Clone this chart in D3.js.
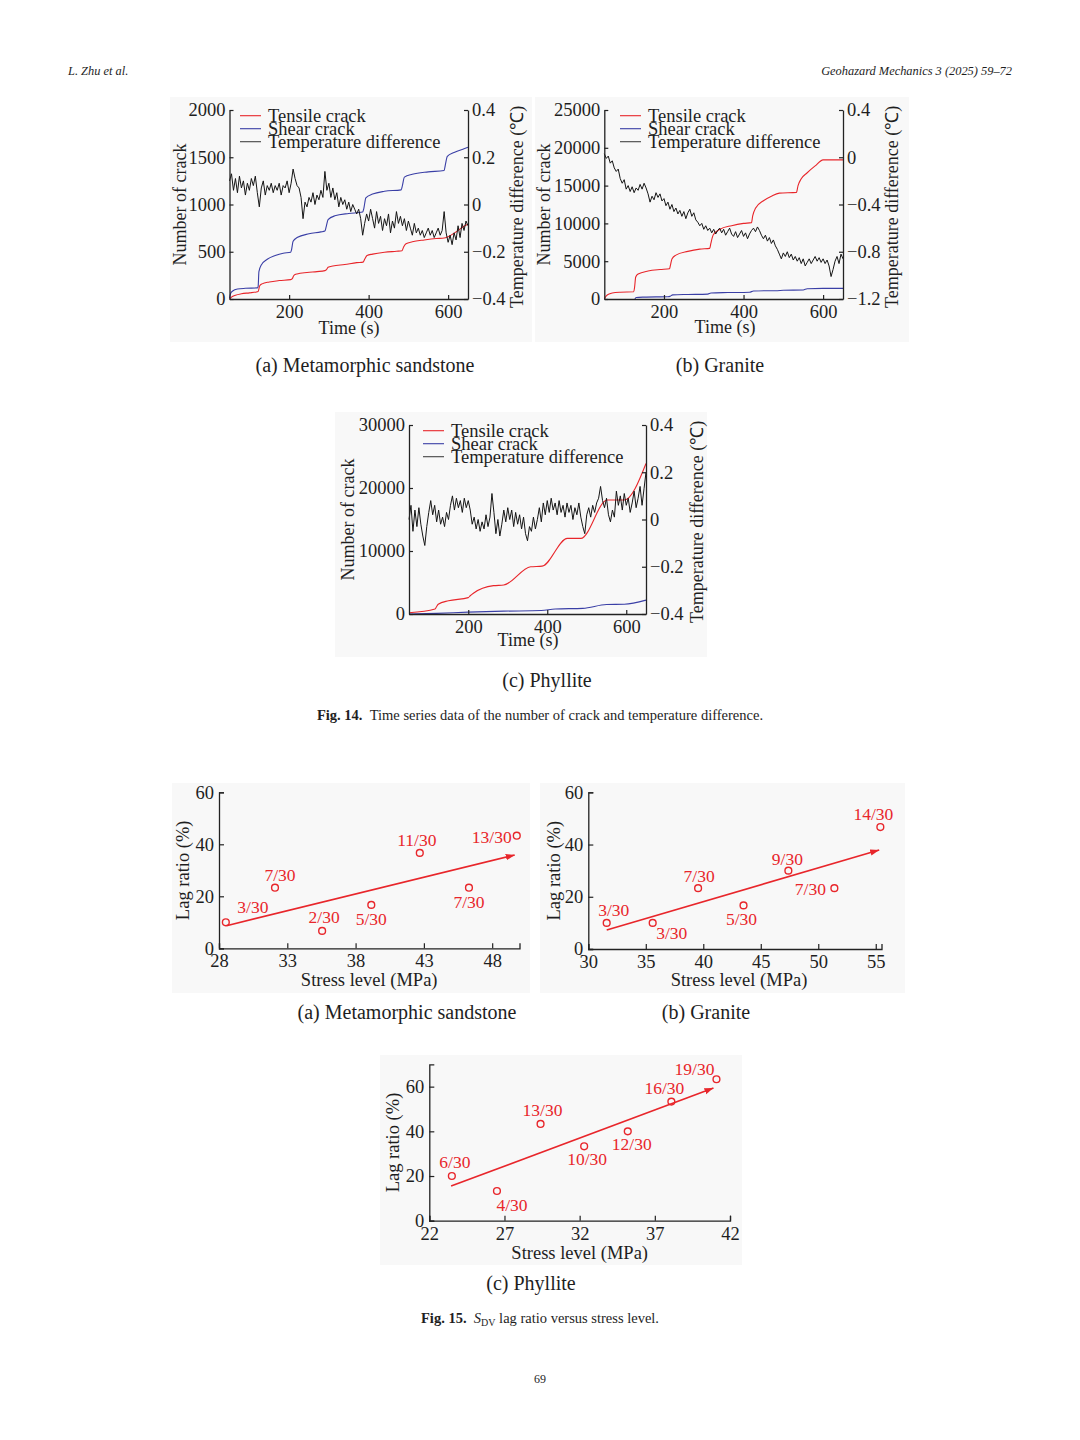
<!DOCTYPE html>
<html><head><meta charset="utf-8">
<script src="https://cdn.jsdelivr.net/npm/d3@7"></script>
<style>
body{margin:0;background:#fff}
svg{display:block}
text{font-family:"Liberation Serif","Times New Roman",serif;fill:#1e1e1e}
</style>
</head><body>
<svg id="page" width="1080" height="1440"></svg>
<script>
// ---------------- DATA ----------------
const timeTicks = [200, 400, 600];
const tempTime = d3.range(50, 651, 5);

// (a) Metamorphic sandstone — [time s, count]
const tensileA = [[50,0],[55,20],[65,40],[80,55],[100,65],[118,75],[122,80],[126,140],[132,160],[150,180],[175,195],[204,205],[208,215],[212,250],[220,265],[245,280],[270,290],[290,300],[294,310],[298,335],[310,350],[340,365],[370,385],[386,390],[390,420],[396,460],[410,475],[440,495],[470,505],[484,510],[488,550],[494,585],[510,605],[540,625],[570,640],[590,645],[600,660],[620,710],[640,770],[650,790]];
const shearA = [[50,10],[53,60],[58,85],[70,105],[90,113],[120,118],[122,130],[124,290],[130,360],[145,420],[165,460],[185,485],[204,495],[206,520],[210,610],[220,650],[250,690],[280,710],[290,720],[293,760],[298,840],[315,880],[350,905],[385,920],[388,960],[393,1070],[410,1110],[440,1140],[482,1155],[485,1200],[490,1290],[510,1320],[550,1345],[590,1360],[593,1420],[598,1510],[615,1550],[640,1590],[650,1605]];
const tempA = [
 0.10, 0.13, 0.06, 0.11, 0.05, 0.12, 0.07, 0.10, 0.04, 0.09,
 0.06, 0.11, 0.08, 0.12, 0.05,-0.01, 0.07, 0.10, 0.04, 0.08,
 0.06, 0.09, 0.05, 0.08, 0.06, 0.09, 0.04, 0.08, 0.07, 0.10,
 0.05, 0.09, 0.15, 0.11, 0.08, 0.07, 0.03,-0.06, 0.01,-0.01,
 0.03, 0.01, 0.05, 0.00, 0.04, 0.02, 0.06, 0.03, 0.14, 0.06,
 0.09, 0.03, 0.07, 0.02, 0.05,-0.01, 0.03, 0.00, 0.02,-0.02,
 0.01,-0.03, 0.00,-0.02,-0.04,-0.02,-0.06,-0.13,-0.08,-0.04,
-0.07,-0.02,-0.06,-0.10,-0.03,-0.08,-0.05,-0.11,-0.06,-0.09,
-0.04,-0.12,-0.07,-0.10,-0.03,-0.08,-0.05,-0.09,-0.06,-0.11,
-0.07,-0.10,-0.13,-0.08,-0.12,-0.10,-0.13,-0.11,-0.14,-0.12,
-0.10,-0.13,-0.11,-0.14,-0.12,-0.10,-0.13,-0.11,-0.03,-0.12,
-0.16,-0.13,-0.17,-0.12,-0.15,-0.09,-0.14,-0.08,-0.11,-0.07,
-0.09];

// (b) Granite
const tensileB = [[50,0],[55,400],[62,650],[70,800],[90,900],[124,950],[126,1500],[129,2900],[135,3300],[160,3700],[190,3900],[214,4000],[216,4400],[220,5300],[230,5800],[260,6300],[290,6600],[315,6700],[318,7400],[324,8500],[340,9200],[370,9700],[400,10000],[420,10100],[423,11000],[430,12000],[450,13000],[470,13600],[490,14000],[533,14100],[537,15000],[545,15900],[560,16700],[580,17600],[600,18400],[650,18400]];
const shearB = [[127,0],[130,200],[150,250],[210,300],[215,350],[222,550],[260,600],[310,650],[318,800],[360,850],[415,900],[425,1050],[470,1100],[480,1100],[500,1150],[550,1200],[560,1350],[600,1400],[650,1400]];
const tempB = [
 0.03,-0.01, 0.01,-0.05,-0.03,-0.09,-0.12,-0.10,-0.18,-0.22,
-0.19,-0.27,-0.24,-0.29,-0.25,-0.30,-0.26,-0.28,-0.23,-0.27,
-0.22,-0.26,-0.31,-0.38,-0.33,-0.36,-0.30,-0.34,-0.31,-0.37,
-0.35,-0.41,-0.38,-0.44,-0.40,-0.46,-0.43,-0.48,-0.45,-0.50,
-0.46,-0.52,-0.47,-0.44,-0.50,-0.47,-0.53,-0.55,-0.58,-0.56,
-0.61,-0.58,-0.62,-0.60,-0.64,-0.61,-0.65,-0.62,-0.60,-0.64,
-0.61,-0.66,-0.63,-0.60,-0.65,-0.67,-0.63,-0.68,-0.65,-0.62,
-0.67,-0.64,-0.69,-0.65,-0.62,-0.60,-0.63,-0.59,-0.62,-0.66,
-0.69,-0.66,-0.71,-0.68,-0.73,-0.70,-0.75,-0.78,-0.82,-0.86,
-0.81,-0.84,-0.80,-0.85,-0.82,-0.87,-0.84,-0.88,-0.85,-0.90,
-0.86,-0.92,-0.89,-0.86,-0.90,-0.87,-0.84,-0.88,-0.85,-0.89,
-0.86,-0.90,-0.87,-0.92,-1.01,-0.95,-0.88,-0.84,-0.90,-0.82,
-0.86];

// (c) Phyllite
const tensileC = [[50,200],[116,800],[120,1200],[124,1550],[150,2100],[200,2600],[205,2900],[213,3300],[264,4500],[290,4600],[358,7500],[387,7600],[451,12000],[485,12000],[552,18100],[595,18100],[650,23900]];
const shearC = [[50,0],[120,100],[200,300],[290,450],[385,550],[420,800],[490,900],[550,1500],[595,1550],[650,2200]];
const tempC = [
 0.00, 0.06,-0.05, 0.04,-0.03, 0.05,-0.02,-0.07,-0.11,-0.03,
 0.03, 0.08, 0.02, 0.06,-0.01, 0.04,-0.02, 0.01,-0.03, 0.03,
 0.00, 0.06, 0.10, 0.04, 0.09, 0.05, 0.08, 0.03, 0.09, 0.05,
 0.08, 0.04,-0.02, 0.01,-0.04, 0.00,-0.05,-0.01,-0.04, 0.02,
-0.03, 0.01, 0.11, 0.03,-0.06, 0.00,-0.07,-0.02, 0.04,-0.01,
 0.05, 0.00, 0.04,-0.03, 0.03,-0.02, 0.02,-0.04, 0.01,-0.06,
-0.09,-0.03,-0.05, 0.01,-0.04, 0.00, 0.05,-0.01, 0.07, 0.02,
 0.08, 0.03, 0.09, 0.04, 0.07, 0.02, 0.08, 0.03, 0.06, 0.01,
 0.07, 0.03, 0.06, 0.00, 0.05, 0.02, 0.07, 0.01,-0.03,-0.06,
 0.02, 0.05, 0.01, 0.06, 0.03, 0.07, 0.09, 0.14, 0.08, 0.05,
 0.09, 0.02,-0.01, 0.04, 0.01, 0.12, 0.06, 0.10, 0.04, 0.11,
 0.06, 0.09, 0.03, 0.07, 0.12, 0.05, 0.09, 0.14, 0.06, 0.13,
 0.20];

const legendNames = ["Tensile crack", "Shear crack", "Temperature difference"];

// Fig. 15 — stress level (MPa) vs lag ratio (%)
const stressA = [28.5, 32.1, 35.55, 39.15, 42.7, 46.3, 49.8];
const lagA    = [10, 23.3, 6.7, 16.7, 36.7, 23.3, 43.3];
const labelsA = ["3/30","7/30","2/30","5/30","11/30","7/30","13/30"];
const trendA  = [[28.55, 8.7], [49.65, 35.9]];

const stressB = [31.6, 35.6, 39.55, 43.5, 47.4, 51.4, 55.4];
const lagB    = [10, 10, 23.3, 16.7, 30, 23.3, 46.7];
const labelsB = ["3/30","3/30","7/30","5/30","9/30","7/30","14/30"];
const trendB  = [[31.6, 7.3], [55.3, 37.9]];

const stressC = [23.5, 26.5, 29.4, 32.3, 35.2, 38.1, 41.1];
const lagC    = [20, 13.3, 43.3, 33.3, 40, 53.3, 63.3];
const labelsC = ["6/30","4/30","13/30","10/30","12/30","16/30","19/30"];
const trendC  = [[23.45, 15.5], [40.9, 59.4]];

// ---------------- DRAWING ----------------
const RED = "#e8262b", BLUE = "#3a3fa6", BLACK = "#151515", AXIS = "#222";
const svg = d3.select("#page");

const defs = svg.append("defs");
defs.append("marker").attr("id","arrowRed").attr("markerUnits","userSpaceOnUse")
  .attr("markerWidth",10).attr("markerHeight",8).attr("refX",9).attr("refY",3.2)
  .attr("orient","auto")
  .append("path").attr("d","M0,0 L9,3.2 L0,6.4 Z").attr("fill",RED);

function styleAxis(g, fs) {
  g.attr("font-family", null).attr("font-size", null);
  g.select(".domain").attr("stroke", AXIS).attr("stroke-width", 1.3);
  g.selectAll(".tick line").attr("stroke", AXIS).attr("stroke-width", 1.2);
  g.selectAll(".tick text").attr("font-size", fs).attr("fill", "#1e1e1e");
}
const fmtTemp = d => d === 0 ? "0" : d3.format(".1f")(d);

function drawTS(cfg) {
  const g = svg.append("g");
  g.append("rect").attr("x",cfg.panel[0]).attr("y",cfg.panel[1]).attr("width",cfg.panel[2]).attr("height",cfg.panel[3]).attr("fill","#f8f8f8");
  const x = d3.scaleLinear().domain([50,650]).range([cfg.L, cfg.R]);
  const yL = d3.scaleLinear().domain(cfg.crackDomain).range([cfg.B, cfg.T]);
  const yR = d3.scaleLinear().domain(cfg.tempDomain).range([cfg.B, cfg.T]);

  const lc = d3.line().x(d => x(d[0])).y(d => yL(d[1])).curve(d3.curveMonotoneX);
  g.append("path").attr("d", lc(cfg.shear)).attr("fill","none").attr("stroke",BLUE).attr("stroke-width",1.1);
  g.append("path").attr("d", lc(cfg.tensile)).attr("fill","none").attr("stroke",RED).attr("stroke-width",1.1);
  const lt = d3.line().x((d,i) => x(tempTime[i])).y(d => yR(d));
  g.append("path").attr("d", lt(cfg.temp)).attr("fill","none").attr("stroke",BLACK).attr("stroke-width",1);

  const ax = g.append("g").attr("transform",`translate(0,${cfg.B})`)
    .call(d3.axisBottom(x).tickValues(timeTicks).tickSize(-4).tickSizeOuter(0).tickPadding(6));
  styleAxis(ax, 18.5);
  const ayl = g.append("g").attr("transform",`translate(${cfg.L},0)`)
    .call(d3.axisLeft(yL).tickValues(cfg.crackTicks).tickSize(-4).tickSizeOuter(0).tickPadding(4).tickFormat(d3.format("d")));
  styleAxis(ayl, 18.5);
  const ayr = g.append("g").attr("transform",`translate(${cfg.R},0)`)
    .call(d3.axisRight(yR).tickValues(cfg.tempTicks).tickSize(-4).tickSizeOuter(0).tickPadding(4).tickFormat(fmtTemp));
  styleAxis(ayr, 18.5);

  // legend
  const colors = [RED, BLUE, "#444"];
  legendNames.forEach((name, i) => {
    const yy = cfg.legY + i * 13;
    g.append("line").attr("x1",cfg.legX).attr("x2",cfg.legX+21).attr("y1",yy).attr("y2",yy)
      .attr("stroke",colors[i]).attr("stroke-width",1.1);
    g.append("text").attr("x",cfg.legX+28).attr("y",yy+6).attr("font-size",18.5).text(name);
  });

  // titles
  g.append("text").attr("transform",`translate(${cfg.leftTitleX+6},${(cfg.T+cfg.B)/2}) rotate(-90)`)
    .attr("text-anchor","middle").attr("font-size",18).text("Number of crack");
  g.append("text").attr("transform",`translate(${cfg.rightTitleX+6},${cfg.rightTitleY}) rotate(-90)`)
    .attr("text-anchor","start").attr("font-size",18).text("Temperature difference (℃)");
  g.append("text").attr("x",cfg.timeX).attr("y",cfg.timeY+6).attr("text-anchor","middle").attr("font-size",18).text("Time (s)");
}

drawTS({L:229.5, R:468, T:110, B:299, panel:[170,97,362,245],
  crackDomain:[0,2000], crackTicks:[0,500,1000,1500,2000],
  tempDomain:[-0.4,0.4], tempTicks:[-0.4,-0.2,0,0.2,0.4],
  tensile:tensileA, shear:shearA, temp:tempA,
  legX:240, legY:115.7, leftTitleX:179.5, rightTitleX:516.7, rightTitleY:308, timeX:349, timeY:328});
drawTS({L:604.3, R:843, T:110, B:299, panel:[535,97,374,245],
  crackDomain:[0,25000], crackTicks:[0,5000,10000,15000,20000,25000],
  tempDomain:[-1.2,0.4], tempTicks:[-1.2,-0.8,-0.4,0,0.4],
  tensile:tensileB, shear:shearB, temp:tempB,
  legX:620, legY:115.7, leftTitleX:544, rightTitleX:891.7, rightTitleY:308, timeX:725, timeY:326.5});
drawTS({L:409, R:646, T:425, B:614, panel:[335,412,372,245],
  crackDomain:[0,30000], crackTicks:[0,10000,20000,30000],
  tempDomain:[-0.4,0.4], tempTicks:[-0.4,-0.2,0,0.2,0.4],
  tensile:tensileC, shear:shearC, temp:tempC,
  legX:423, legY:430.7, leftTitleX:348.3, rightTitleX:696.7, rightTitleY:623, timeX:528, timeY:640});

function drawScatter(cfg) {
  const g = svg.append("g");
  g.append("rect").attr("x",cfg.panel[0]).attr("y",cfg.panel[1]).attr("width",cfg.panel[2]).attr("height",cfg.panel[3]).attr("fill","#f8f8f8");
  const x = d3.scaleLinear().domain(cfg.xDomain).range([cfg.L, cfg.R]);
  const y = d3.scaleLinear().domain(cfg.yDomain).range([cfg.B, cfg.T]);

  const ax = g.append("g").attr("transform",`translate(0,${cfg.B})`)
    .call(d3.axisBottom(x).tickValues(cfg.xTicks).tickSize(-5).tickSizeOuter(-5).tickPadding(6));
  styleAxis(ax, 18.5);
  const ay = g.append("g").attr("transform",`translate(${cfg.L},0)`)
    .call(d3.axisLeft(y).tickValues([0,20,40,60]).tickSize(-5).tickSizeOuter(-5).tickPadding(5));
  styleAxis(ay, 18.5);

  g.append("path").attr("d", d3.line().x(d => x(d[0])).y(d => y(d[1]))(cfg.trend))
    .attr("stroke",RED).attr("stroke-width",1.6).attr("fill","none").attr("marker-end","url(#arrowRed)");

  cfg.stress.forEach((s, i) => {
    g.append("circle").attr("cx",x(s)).attr("cy",y(cfg.lag[i])).attr("r",3.4)
      .attr("fill","none").attr("stroke",RED).attr("stroke-width",1.4);
    g.append("text").attr("x",x(s)+cfg.off[i][0]).attr("y",y(cfg.lag[i])+cfg.off[i][1]+6)
      .attr("text-anchor","middle").attr("font-size",17.5).style("fill",RED).text(cfg.labels[i]);
  });

  g.append("text").attr("transform",`translate(${cfg.yTitleX+6},${(cfg.T+cfg.B)/2}) rotate(-90)`)
    .attr("text-anchor","middle").attr("font-size",18.5).text("Lag ratio (%)");
  g.append("text").attr("x",cfg.xTitle[0]).attr("y",cfg.xTitle[1]+6).attr("text-anchor","middle").attr("font-size",18.5).text("Stress level (MPa)");
}

drawScatter({L:219, R:519.5, T:792.3, B:948.3, panel:[172,783,358,210],
  xDomain:[28,50], xTicks:[28,33,38,43,48], yDomain:[0,60],
  stress:stressA, lag:lagA, labels:labelsA, trend:trendA,
  off:[[27,-15],[5,-13],[2,-14],[0,14],[-3,-13],[0,14],[-25,1]],
  yTitleX:183.3, xTitle:[369.2,980]});
drawScatter({L:588.3, R:881.5, T:792.3, B:949, panel:[540,783,365,210],
  xDomain:[30,55.5], xTicks:[30,35,40,45,50,55], yDomain:[0,60],
  stress:stressB, lag:lagB, labels:labelsB, trend:trendB,
  off:[[7,-13],[19,10],[1,-12],[-2,14],[-1,-12],[-24,1],[-7,-13]],
  yTitleX:554, xTitle:[739,980]});
drawScatter({L:429.3, R:730, T:1064.3, B:1220.7, panel:[380,1055,362,210],
  xDomain:[22,42], xTicks:[22,27,32,37,42], yDomain:[0,70],
  stress:stressC, lag:lagC, labels:labelsC, trend:trendC,
  off:[[3,-14],[15,14],[2,-14],[3,13],[4,13],[-7,-14],[-22,-10]],
  yTitleX:393.3, xTitle:[579.7,1253.3]});

// sub-captions
const subcaps = [["(a) Metamorphic sandstone",365,365],["(b) Granite",720,365],["(c) Phyllite",547,680],
                 ["(a) Metamorphic sandstone",407,1012],["(b) Granite",706,1012],["(c) Phyllite",531,1283]];
subcaps.forEach(s => svg.append("text").attr("x",s[1]).attr("y",s[2]+7).attr("text-anchor","middle").attr("font-size",20).text(s[0]));

// figure captions
const c14 = svg.append("text").attr("x",540).attr("y",719.5).attr("text-anchor","middle").attr("font-size",14.5);
c14.append("tspan").attr("font-weight","bold").text("Fig. 14.");
c14.append("tspan").text("\u2002Time series data of the number of crack and temperature difference.");
const c15 = svg.append("text").attr("x",540).attr("y",1322.5).attr("text-anchor","middle").attr("font-size",14.5);
c15.append("tspan").attr("font-weight","bold").text("Fig. 15.");
c15.append("tspan").text("\u2002");
c15.append("tspan").attr("font-style","italic").text("S");
c15.append("tspan").attr("font-size",10).attr("dy",3).text("DV");
c15.append("tspan").attr("dy",-3).text(" lag ratio versus stress level.");

// header / footer
svg.append("text").attr("x",68).attr("y",75).attr("font-size",12.4).attr("font-style","italic").text("L. Zhu et al.");
svg.append("text").attr("x",1012).attr("y",75).attr("text-anchor","end").attr("font-size",12.4).attr("font-style","italic").text("Geohazard Mechanics 3 (2025) 59–72");
svg.append("text").attr("x",540).attr("y",1383).attr("text-anchor","middle").attr("font-size",12).text("69");
</script>
</body></html>
